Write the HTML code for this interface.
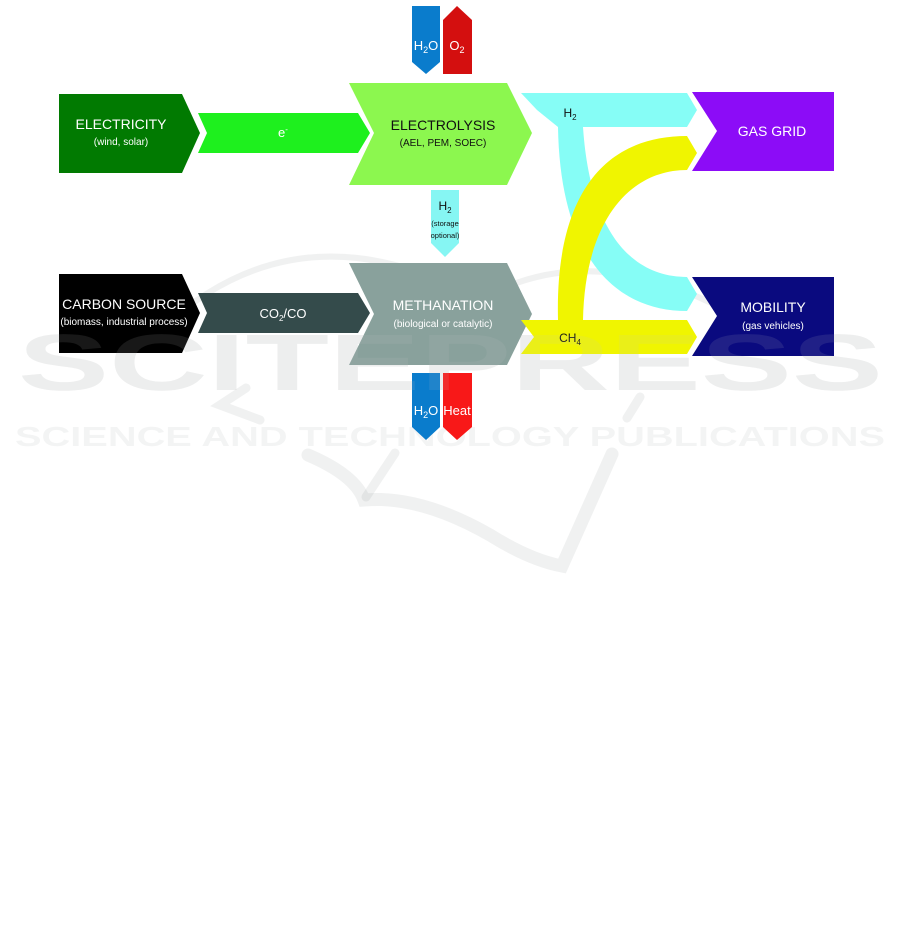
<!DOCTYPE html>
<html><head><meta charset="utf-8"><style>
html,body{margin:0;padding:0;background:#fff;}
svg{display:block;font-family:"Liberation Sans",Arial,sans-serif;}
</style></head><body>
<svg width="901" height="949" viewBox="0 0 901 949" xmlns="http://www.w3.org/2000/svg">
<g fill="rgba(120,130,130,0.09)">
<text x="18" y="390" font-size="80" font-weight="bold" textLength="865" lengthAdjust="spacingAndGlyphs">SCITEPRESS</text>
<text x="15" y="446" font-size="28" font-weight="bold" textLength="870" lengthAdjust="spacingAndGlyphs">SCIENCE AND TECHNOLOGY PUBLICATIONS</text>
</g>
<g stroke="rgba(120,130,130,0.11)" fill="none" stroke-linecap="round">
<path d="M308,455 Q355,475 364,500 Q420,495 490,535 Q530,560 562,566 L612,454" stroke-width="13"/>
<path d="M395,453 L366,497" stroke-width="9"/>
<path d="M246,388 L220,405 L260,420" stroke-width="9"/>
<path d="M640,397 L627,418" stroke-width="9"/>
<path d="M160,330 Q300,200 480,300 Q600,230 760,330" stroke-width="6"/>
</g>

<polygon points="412,6 440,6 440,62 426,74 412,62" fill="#0a7ccc"/>
<polygon points="443,20 457,6 472,20 472,74 443,74" fill="#d40f0f"/>
<text x="426" y="50" font-size="13" fill="#fff" text-anchor="middle">H<tspan font-size="9" dy="3">2</tspan><tspan dy="-3">O</tspan></text>
<text x="457" y="50" font-size="13" fill="#fff" text-anchor="middle">O<tspan font-size="9" dy="3">2</tspan></text>

<polygon points="59,94 182,94 200,133 182,173 59,173" fill="#017a01"/>
<text x="121" y="129" font-size="14" fill="#fff" text-anchor="middle">ELECTRICITY</text>
<text x="121" y="145" font-size="10" fill="#fff" text-anchor="middle">(wind, solar)</text>
<polygon points="198,113 358,113 370,133 358,153 198,153 207,133" fill="#1ef01e"/>
<text x="283" y="137" font-size="13" fill="#fff" text-anchor="middle">e<tspan font-size="8" dy="-5">-</tspan></text>

<polygon points="349,83 507,83 532,133 507,185 349,185 374,133" fill="#8cf74f"/>
<text x="443" y="130" font-size="14" fill="#111" text-anchor="middle">ELECTROLYSIS</text>
<text x="443" y="146" font-size="10" fill="#111" text-anchor="middle">(AEL, PEM, SOEC)</text>

<polygon points="431,190 459,190 459,243 445,257 431,243" fill="#86f6f3"/>
<text x="445" y="210" font-size="12" fill="#111" text-anchor="middle">H<tspan font-size="8" dy="3">2</tspan></text>
<text x="445" y="226" font-size="7.5" fill="#111" text-anchor="middle">(storage</text>
<text x="445" y="238" font-size="7.5" fill="#111" text-anchor="middle">optional)</text>

<polygon points="59,274 182,274 200,313 182,353 59,353" fill="#000"/>
<text x="124" y="309" font-size="14" fill="#fff" text-anchor="middle">CARBON SOURCE</text>
<text x="124" y="325" font-size="10" fill="#fff" text-anchor="middle">(biomass, industrial process)</text>
<polygon points="198,293 358,293 370,313 358,333 198,333 207,313" fill="#344b4b"/>
<text x="283" y="318" font-size="13" fill="#fff" text-anchor="middle">CO<tspan font-size="8" dy="3">2</tspan><tspan dy="-3">/CO</tspan></text>

<polygon points="349,263 507,263 532,314 507,365 349,365 374,314" fill="#89a19c"/>
<text x="443" y="310" font-size="14" fill="#fff" text-anchor="middle">METHANATION</text>
<text x="443" y="327" font-size="10" fill="#fff" text-anchor="middle">(biological or catalytic)</text>

<polygon points="412,373 440,373 440,427 426,440 412,427" fill="#0a7ccc"/>
<polygon points="443,373 472,373 472,427 457,440 443,427" fill="#f81818"/>
<text x="426" y="415" font-size="13" fill="#fff" text-anchor="middle">H<tspan font-size="9" dy="3">2</tspan><tspan dy="-3">O</tspan></text>
<text x="457" y="415" font-size="13" fill="#fff" text-anchor="middle">Heat</text>

<polygon points="521,93 687,93 697,110 687,127 558,127 537,110" fill="#86fdf6"/>
<path d="M558,127 C560,250 610,311 687,311 L697,294 L687,277 C630,277 590,230 583,127 Z" fill="#86fdf6"/>
<text x="570" y="117" font-size="12" fill="#111" text-anchor="middle">H<tspan font-size="8" dy="3">2</tspan></text>

<path d="M558,320 C555,200 600,136 687,136 L697,153 L687,170 C630,170 585,220 583,320 Z" fill="#f0f500"/>
<polygon points="521,320 687,320 697,337 687,354 521,354 534,337" fill="#f0f500"/>
<text x="570" y="342" font-size="12" fill="#111" text-anchor="middle">CH<tspan font-size="8" dy="3">4</tspan></text>

<polygon points="692,92 834,92 834,171 692,171 717,131" fill="#8c0cf7"/>
<text x="772" y="136" font-size="14" fill="#fff" text-anchor="middle">GAS GRID</text>
<polygon points="692,277 834,277 834,356 692,356 717,316" fill="#0a0a7f"/>
<text x="773" y="312" font-size="14" fill="#fff" text-anchor="middle">MOBILITY</text>
<text x="773" y="329" font-size="10" fill="#fff" text-anchor="middle">(gas vehicles)</text>

<g fill="rgba(200,200,200,0.12)">
<text x="18" y="390" font-size="80" font-weight="bold" textLength="865" lengthAdjust="spacingAndGlyphs">SCITEPRESS</text>
</g>
</svg>
</body></html>
